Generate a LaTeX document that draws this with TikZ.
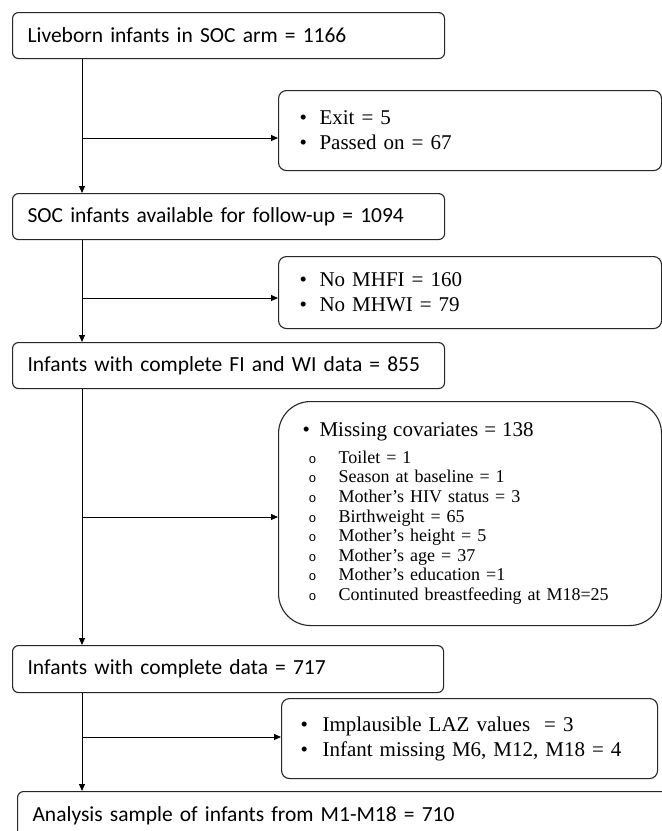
\documentclass[tikz,border=0pt]{standalone}
\usepackage{fontspec}
\setmainfont{Carlito}
\newfontfamily\serifside{Liberation Serif}
\newfontfamily\monoside{Liberation Mono}
\usetikzlibrary{arrows.meta}
\tikzset{
  mainbox/.style={draw=black!85, line width=1.1pt, rounded corners=6pt, anchor=north west,
    inner xsep=15pt, inner ysep=0pt, align=left, font=\fontsize{21.5}{26}\selectfont},
  sidebox/.style={draw=black!85, line width=1.1pt, rounded corners=8pt, anchor=north west,
    inner xsep=21pt, inner ysep=0pt, align=left, font=\serifside\fontsize{21}{25}\selectfont},
  arr/.style={line width=1pt, -{Triangle[length=7pt,width=6pt]}}
}
\newcommand{\bul}[1]{\makebox[#1][l]{\textbullet}}
\newcommand{\sub}{\hspace{6pt}\makebox[30pt][l]{{\monoside\fontsize{13}{13}\selectfont o}}}
\begin{document}
\begin{tikzpicture}[x=1pt,y=-1pt]
\clip (0,0) rectangle (662,831);
\fill[white] (0,0) rectangle (662,831);
\coordinate (spine) at (82,0);
% main boxes
\node[mainbox, minimum height=46pt, text width=402pt] (b1) at (12,12) {Liveborn infants in SOC arm = 1166};
\node[mainbox, minimum height=46pt, text width=402pt] (b2) at (12,193) {SOC infants available for follow-up = 1094};
\node[mainbox, minimum height=46pt, text width=402pt] (b3) at (12,342) {Infants with complete FI and WI data = 855};
\node[mainbox, minimum height=47pt, text width=401pt] (b4) at (12,645) {Infants with complete data = 717};
\node[mainbox, minimum height=48pt, text width=630pt] (b5) at (17,791) {Analysis sample of infants from M1-M18 = 710};
% side boxes
\node[sidebox, minimum height=80pt, text width=341pt] (s1) at (278,90)
  {\bul{20pt}Exit = 5\\ \bul{20pt}Passed on = 67};
\node[sidebox, minimum height=72pt, text width=341pt] (s2) at (278,256)
  {\bul{20pt}No MHFI = 160\\ \bul{20pt}No MHWI = 79};
\node[sidebox, rounded corners=32pt, minimum height=224pt, text width=335pt, inner xsep=24pt,
      font=\serifside\fontsize{18}{19.6}\selectfont] (s3) at (278,401)
  {{\fontsize{21}{26}\selectfont\bul{17pt}Missing covariates = 138}\\[7pt]
   \sub Toilet = 1\\
   \sub Season at baseline = 1\\
   \sub Mother’s HIV status = 3\\
   \sub Birthweight = 65\\
   \sub Mother’s height = 5\\
   \sub Mother’s age = 37\\
   \sub Mother’s education =1\\
   \sub Continuted breastfeeding at M18=25};
\node[sidebox, minimum height=80pt, text width=338pt, inner xsep=19pt] (s4) at (281,698)
  {\bul{22pt}Implausible LAZ values\ \ = 3\\ \bul{22pt}Infant missing M6, M12, M18 = 4};
% junctions
\coordinate (j1) at (82,138);
\coordinate (j2) at (82,298);
\coordinate (j3) at (82,517);
\coordinate (j4) at (82,737);
% connectors
\draw[arr] (b1.south -| spine) -- (b2.north -| spine);
\draw[arr] (b2.south -| spine) -- (b3.north -| spine);
\draw[arr] (b3.south -| spine) -- (b4.north -| spine);
\draw[arr] (b4.south -| spine) -- (b5.north -| spine);
\draw[arr] (j1) -- (j1 -| s1.west);
\draw[arr] (j2) -- (j2 -| s2.west);
\draw[arr] (j3) -- (j3 -| s3.west);
\draw[arr] (j4) -- (j4 -| s4.west);
\end{tikzpicture}
\end{document}
